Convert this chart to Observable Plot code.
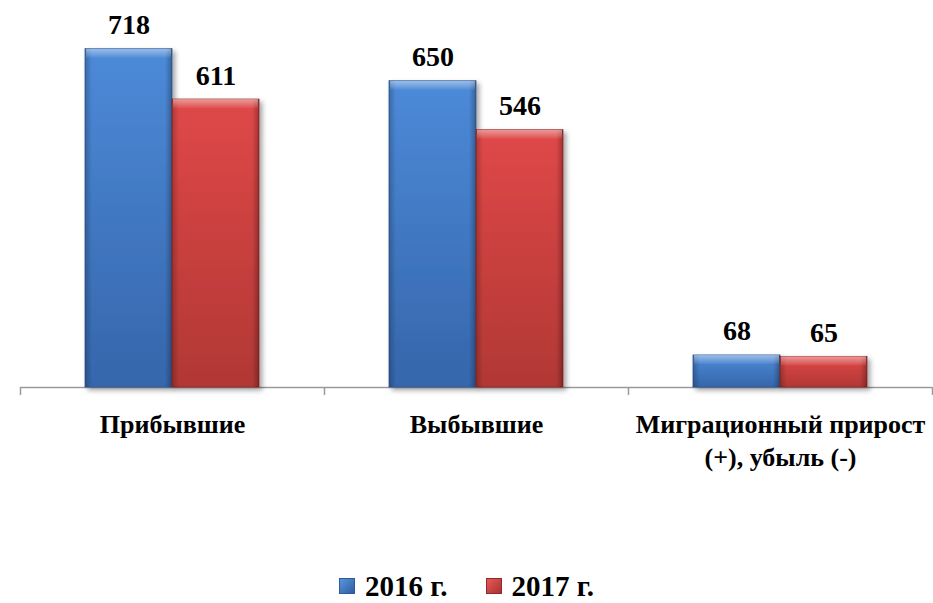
<!DOCTYPE html>
<html>
<head>
<meta charset="utf-8">
<script src="https://cdn.jsdelivr.net/npm/d3@7"></script>
<script src="https://cdn.jsdelivr.net/npm/@observablehq/plot@0.6"></script>
<style>
  html, body { margin: 0; padding: 0; background: #fff; overflow: hidden; }
  #chart { width: 933px; }
  .legend { display: flex; justify-content: center; align-items: center; gap: 38px; height: 20px; line-height: 20px; margin-top: 26px;
    font-family: "Liberation Serif", "Times New Roman", serif; font-weight: bold; font-size: 29px; color: #000; }
  .legend .item { display: flex; align-items: center; gap: 10px; }
  .legend .sw { width: 16px; height: 16px; display: inline-block; box-sizing: border-box; }
</style>
</head>
<body>
<div id="chart"></div>
<script>
const categories = ["Прибывшие", "Выбывшие", "Миграционный прирост\n(+), убыль (-)"];
const years = ["2016 г.", "2017 г."];
const values2016 = [718, 650, 68];
const values2017 = [611, 546, 65];

const d16 = categories.map((c, i) => ({category: c, value: values2016[i]}));
const d17 = categories.map((c, i) => ({category: c, value: values2017[i]}));

const font = "'Liberation Serif', 'Times New Roman', serif";
const half = 152, barW = 87;

const chart = Plot.plot({
  width: 933,
  height: 550,
  marginLeft: 20,
  marginRight: 1,
  marginTop: 10,
  marginBottom: 163,
  style: {fontFamily: font, background: "#fff", overflow: "visible"},
  x: {domain: categories, padding: 0, label: null},
  y: {domain: [0, 800], axis: null},
  marks: [
    () => {
      const ns = "http://www.w3.org/2000/svg";
      const g = document.createElementNS(ns, "defs");
      g.innerHTML = `
        <linearGradient id="gBlue" x1="0" y1="0" x2="0" y2="1">
          <stop offset="0" stop-color="#4d8ad8"/><stop offset="1" stop-color="#3566ab"/>
        </linearGradient>
        <linearGradient id="gRed" x1="0" y1="0" x2="0" y2="1">
          <stop offset="0" stop-color="#e04848"/><stop offset="1" stop-color="#b13835"/>
        </linearGradient>
        <linearGradient id="gEdge" x1="0" y1="0" x2="1" y2="0">
          <stop offset="0" stop-color="#000" stop-opacity="0.22"/>
          <stop offset="0.08" stop-color="#000" stop-opacity="0"/>
          <stop offset="0.92" stop-color="#000" stop-opacity="0"/>
          <stop offset="1" stop-color="#000" stop-opacity="0.28"/>
        </linearGradient>
        <linearGradient id="gTop" x1="0" y1="0" x2="0" y2="1">
          <stop offset="0" stop-color="#fff" stop-opacity="0.45"/>
          <stop offset="1" stop-color="#fff" stop-opacity="0.05"/>
        </linearGradient>
        <filter id="shadow" x="-10%" y="-10%" width="130%" height="130%">
          <feDropShadow dx="3" dy="3" stdDeviation="2.5" flood-color="#000" flood-opacity="0.35"/>
        </filter>`;
      return g;
    },
    Plot.ruleY([0], {stroke: "#9a9a9a", strokeWidth: 1.5}),
    Plot.ruleX(categories, {x: d => d, y1: 0, y2: -17, dx: -half, stroke: "#9a9a9a", strokeWidth: 1.5}),
    Plot.ruleX(categories.slice(-1), {x: d => d, y1: 0, y2: -17, dx: half, stroke: "#9a9a9a", strokeWidth: 1.5}),
    // bars 2016
    Plot.barY(d16, {x: "category", y: "value", fill: "url(#gBlue)", stroke: "#2d5a9a", strokeWidth: 0.8,
      insetLeft: half - barW, insetRight: half}),
    Plot.barY(d16, {x: "category", y: "value", fill: "url(#gEdge)", insetLeft: half - barW, insetRight: half}),
    Plot.barY(d16, {x: "category", y1: "value", y2: "value", fill: "url(#gTop)", insetBottom: -9,
      insetLeft: half - barW + 1, insetRight: half + 1}),
    // bars 2017
    Plot.barY(d17, {x: "category", y: "value", fill: "url(#gRed)", stroke: "#8e2a28", strokeWidth: 0.8,
      insetLeft: half, insetRight: half - barW}),
    Plot.barY(d17, {x: "category", y: "value", fill: "url(#gEdge)", insetLeft: half, insetRight: half - barW}),
    Plot.barY(d17, {x: "category", y1: "value", y2: "value", fill: "url(#gTop)", insetBottom: -9,
      insetLeft: half + 1, insetRight: half - barW + 1}),
    // value labels
    Plot.text(d16, {x: "category", y: "value", text: d => String(d.value), dx: -barW / 2, dy: -15,
      lineAnchor: "bottom", fontSize: 28, fontWeight: "bold", fill: "#000"}),
    Plot.text(d17, {x: "category", y: "value", text: d => String(d.value), dx: barW / 2, dy: -15,
      lineAnchor: "bottom", fontSize: 28, fontWeight: "bold", fill: "#000"}),
    Plot.axisX({tickSize: 0, tickPadding: 22, fontSize: 26, fontWeight: "bold", fill: "#000",
      lineHeight: 1.27, label: null, textAnchor: "middle"})
  ]
});

d3.select(chart).selectAll("g[aria-label='bar']").each(function() {
  const f = this.getAttribute("fill");
  if (f === "url(#gBlue)" || f === "url(#gRed)") this.setAttribute("filter", "url(#shadow)");
});

document.getElementById("chart").appendChild(chart);

const legend = document.createElement("div");
legend.className = "legend";
const swatches = [
  {label: years[0], bg: "linear-gradient(135deg, #5a95de, #2f5d9e)", border: "#2d5a9a"},
  {label: years[1], bg: "linear-gradient(135deg, #e65a5a, #a83230)", border: "#8e2a28"}
];
for (const s of swatches) {
  const item = document.createElement("span");
  item.className = "item";
  const sw = document.createElement("span");
  sw.className = "sw";
  sw.style.background = s.bg;
  sw.style.border = `1px solid ${s.border}`;
  const t = document.createElement("span");
  t.textContent = s.label;
  item.appendChild(sw); item.appendChild(t);
  legend.appendChild(item);
}
document.getElementById("chart").appendChild(legend);
</script>
</body>
</html>
